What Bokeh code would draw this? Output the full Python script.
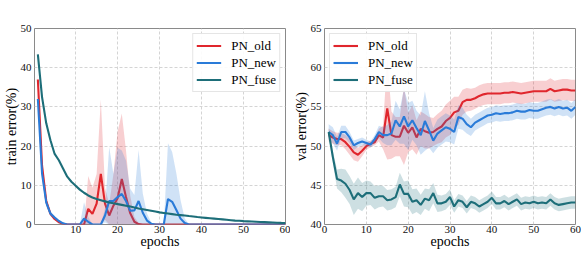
from bokeh.plotting import figure
from bokeh.layouts import row
from bokeh.models import Legend, LegendItem, FixedTicker, Range1d
from bokeh.embed import file_html
from bokeh.resources import INLINE

epochs = list(range(1, 61))
series_names = ["PN_old", "PN_new", "PN_fuse"]

# ---- train error (%) ----
train_old = [37, 15, 6.0, 2.7, 1.4, 0.6, 0.2, 0, 0, 0, 0, 0, 4.0, 2.7, 5.3, 12.9, 5.3, 2.3, 4.8, 6.7,
             11.6, 7.0, 2.9, 0.7, 0.1] + [0] * 35
train_old_std = [1.5, 1.5, 1.0, 0.5, 0.3, 0, 0, 0, 0, 0, 0, 0, 8.4, 6.7, 7.6, 19, 4.1, 3, 8, 17,
                 16.7, 11.9, 4.5, 1.2, 0.3] + [0] * 35
train_new = [32, 13, 5.6, 2.8, 1.8, 0.9, 0.3, 0, 0, 0, 0, 1.5, 0.7, 0, 0, 0, 2.3, 6.0, 6.0, 7.0,
             7.8, 6.0, 3.5, 3.6, 6.0, 3.0, 1.0, 0.2, 0, 0, 0, 6.5, 5.8, 3.7, 1.5, 0.4] + [0] * 24
train_new_std = [1.5, 1.5, 1.0, 0.6, 0.4, 0.2, 0, 0, 0, 0, 0, 4.2, 1.2, 0, 0, 0, 1.8, 13.8, 6.9, 12.6,
                 11.1, 10.3, 5.6, 3.9, 13, 4.9, 1.8, 0.3, 0, 0, 0, 14.2, 12.7, 9.3, 4.7, 1.1] + [0] * 24
train_fuse = [43.4, 32.5, 25.8, 21.5, 18.0, 16.4, 14.3, 12.2, 10.9, 9.9, 8.9, 8.1, 7.4, 6.9, 6.5,
              6.2, 5.9, 5.6, 5.4, 5.2, 5.0, 4.8, 4.6, 4.35, 4.1, 3.9, 3.7, 3.5, 3.3, 3.1,
              2.95, 2.8, 2.65, 2.5, 2.4, 2.3, 2.15, 2.05, 1.9, 1.8, 1.7, 1.6, 1.5, 1.4, 1.3,
              1.2, 1.1, 1.0, 0.95, 0.85, 0.8, 0.75, 0.7, 0.65, 0.6, 0.55, 0.5, 0.45, 0.42, 0.4]
train_fuse_std = [0.4, 0.4, 0.3, 0.3, 0.2] + [0.1] * 55

# ---- val error (%) ----
val_old = [51.4, 51.1, 50.9, 50.9, 50.5, 49.9, 49.2, 48.9, 49.4, 50.0, 50.3, 50.5, 51.4, 51.1, 54.8,
           51.4, 51.2, 51.2, 52.6, 51.7, 52.4, 51.1, 52.2, 51.9, 51.7, 51.8, 52.2, 52.5, 53.2, 53.6,
           54.3, 54.5, 55.6, 55.9, 55.9, 56.1, 56.4, 56.6, 56.7, 56.7, 56.7, 56.7, 56.8, 56.8, 56.9,
           56.8, 56.7, 56.8, 56.9, 57.0, 57.0, 57.0, 57.0, 57.3, 57.0, 57.1, 57.2, 57.2, 57.1, 57.1]
val_old_std = [0.8, 0.8, 0.8, 0.8, 0.9, 1.0, 1.0, 0.9, 0.7, 0.5, 0.4, 0.4, 0.8, 1.5, 6.5,
               3.0, 2.5, 2.5, 5.0, 2.5, 2.8, 2.2, 2.2, 2.2, 2.0, 1.8, 1.9, 2.0, 2.1, 2.2,
               2.0, 1.8, 1.6, 1.5, 1.4] + [1.35] * 25
val_new = [51.8, 51.4, 50.3, 51.8, 51.8, 51.1, 50.1, 50.4, 50.6, 50.4, 50.2, 50.9, 51.8, 51.4, 51.4,
           51.6, 53.3, 52.5, 53.8, 52.5, 53.3, 52.3, 51.4, 53.2, 52.0, 50.7, 51.6, 52.0, 52.4, 52.2,
           51.8, 53.7, 53.5, 52.8, 52.4, 53.0, 53.3, 53.6, 53.9, 54.0, 54.2, 54.1, 54.2, 54.2, 54.3,
           54.5, 54.4, 54.4, 54.6, 54.5, 54.5, 54.7, 54.9, 55.0, 54.8, 55.0, 54.8, 54.9, 54.5, 55.0]
val_new_std = [1.0, 1.0, 0.9, 0.8, 0.8, 0.7, 0.6, 0.5, 0.5, 0.4, 0.4, 0.5, 0.8, 1.0, 1.3,
               1.5, 2.5, 2.2, 3.5, 3.0, 2.5, 2.2, 2.5, 3.8, 2.2, 1.6, 1.8, 1.8, 1.8, 1.7,
               1.6, 1.5, 1.4, 1.2, 1.1, 1.0] + [1.0] * 24
val_fuse = [51.8, 48.6, 45.8, 45.6, 45.2, 44.4, 43.2, 44.0, 43.5, 44.0, 44.0, 43.4, 43.6, 43.6, 43.1,
            43.2, 43.5, 45.1, 43.9, 43.9, 42.9, 43.1, 42.5, 43.3, 43.1, 44.0, 42.7, 42.7, 42.9, 43.5,
            42.3, 43.1, 42.9, 42.2, 42.9, 42.7, 42.3, 42.6, 42.9, 43.4, 42.7, 42.7, 43.0, 42.6, 42.9,
            43.2, 42.6, 42.8, 42.7, 42.9, 42.7, 42.8, 42.7, 43.2, 42.7, 42.5, 42.6, 42.7, 42.8, 42.8]
val_fuse_std = [0.5, 0.8, 1.2, 1.5, 1.8, 1.8, 2.0, 2.0, 1.8, 1.6, 1.5, 1.5, 1.4, 1.3, 1.3,
                1.3, 1.3, 1.5, 1.6, 1.7, 1.6, 1.5, 1.3, 1.3, 1.4, 1.3, 1.1, 1.0, 1.0, 1.0] + [0.8] * 30

colors = ["#e0262d", "#2a7bd8", "#1d6e79"]
SERIF = "Liberation Serif"


def make_fig(means, stds, y_lo, y_hi, x_lo, yticks, xticks, ylabel, legend_loc, width, bl, br, clip0):
    p = figure(width=width, height=253, output_backend="svg", toolbar_location=None,
               x_range=Range1d(x_lo, 60), y_range=Range1d(y_lo, y_hi),
               min_border_left=bl, min_border_right=br, min_border_top=28, min_border_bottom=29)
    p.background_fill_color = "white"
    p.border_fill_color = "white"
    p.outline_line_color = "#8a8a8a"
    p.outline_line_width = 1
    items = []
    for m, s, c, n in zip(means, stds, colors, series_names):
        lo = [max(0.0, a - b) if clip0 else a - b for a, b in zip(m, s)]
        hi = [a + b for a, b in zip(m, s)]
        p.varea(x=epochs, y1=lo, y2=hi, fill_color=c, fill_alpha=0.22)
        r = p.line(epochs, m, line_color=c, line_width=2.1)
        items.append(LegendItem(label=n, renderers=[r]))
    for ax in (p.xaxis[0], p.yaxis[0]):
        ax.axis_line_color = None
        ax.major_tick_line_color = None
        ax.minor_tick_line_color = None
        ax.major_tick_out = 0
        ax.major_tick_in = 0
        ax.major_label_text_font = SERIF
        ax.major_label_text_font_size = "11px"
        ax.major_label_text_color = "#111111"
        ax.axis_label_text_font = SERIF
        ax.axis_label_text_font_size = "14px"
        ax.axis_label_text_font_style = "normal"
        ax.axis_label_text_color = "#000000"
    p.xaxis.major_label_standoff = 1
    p.xaxis.axis_label_standoff = -2
    p.yaxis.major_label_standoff = 3
    p.yaxis.axis_label_standoff = -1
    p.xaxis.ticker = FixedTicker(ticks=xticks)
    p.yaxis.ticker = FixedTicker(ticks=yticks)
    p.xaxis.axis_label = "epochs"
    p.yaxis.axis_label = ylabel
    p.grid.grid_line_color = "#d4d4d4"
    p.grid.grid_line_dash = "3 2"
    p.grid.grid_line_width = 1
    leg = Legend(items=items, location=legend_loc)
    leg.label_text_font = SERIF
    leg.label_text_font_size = "13px"
    leg.label_text_color = "#000000"
    leg.glyph_width = 25
    leg.glyph_height = 17
    leg.label_height = 17
    leg.label_standoff = 10
    leg.spacing = 0
    leg.padding = 3
    leg.margin = 5
    leg.border_line_color = "#cccccc"
    leg.border_line_width = 1
    leg.background_fill_color = "white"
    leg.background_fill_alpha = 0.9
    p.add_layout(leg)
    return p


p1 = make_fig([train_old, train_new, train_fuse], [train_old_std, train_new_std, train_fuse_std],
              0, 50, 0.2, [0, 10, 20, 30, 40, 50], [10, 20, 30, 40, 50, 60],
              "train error(%)", "top_right", 290, 30, 5, True)
p2 = make_fig([val_old, val_new, val_fuse], [val_old_std, val_new_std, val_fuse_std],
              40, 65, 0, [40, 45, 50, 55, 60, 65], [0, 10, 20, 30, 40, 50, 60],
              "val error(%)", "top_left", 291, 30, 6, False)

layout = row(p1, p2)
open("out.html", "w").write(file_html(layout, INLINE))
